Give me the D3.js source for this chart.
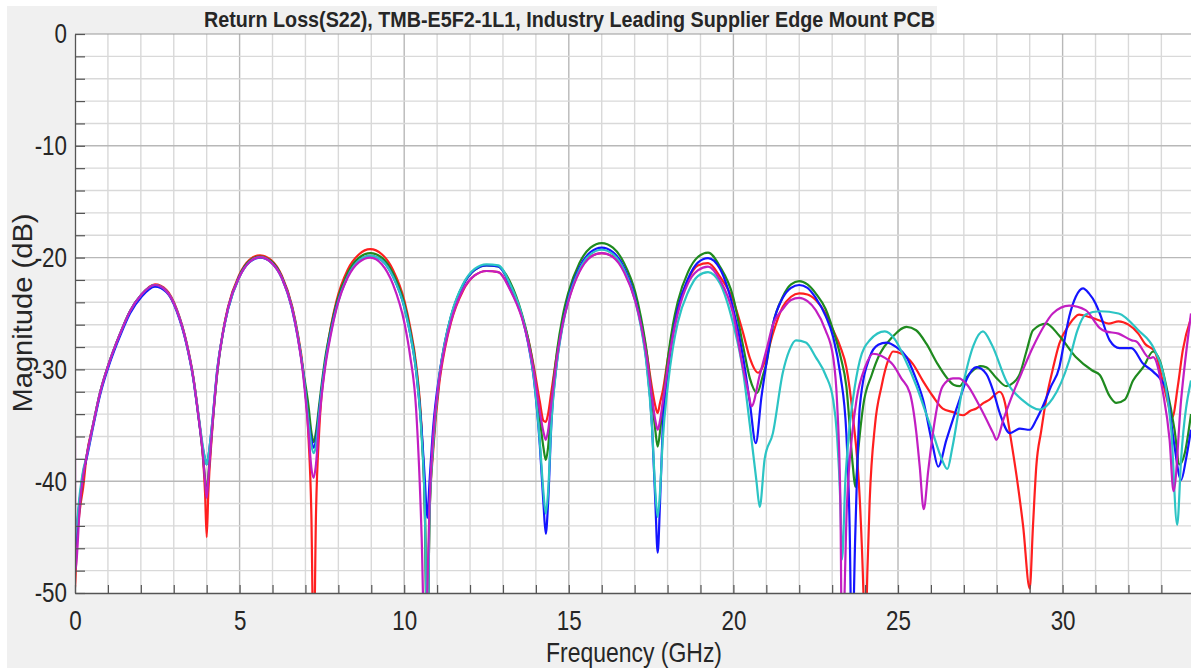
<!DOCTYPE html>
<html>
<head>
<meta charset="utf-8">
<script src="https://cdn.jsdelivr.net/npm/d3@7"></script>
<style>
  html, body { margin: 0; padding: 0; background: #ffffff; }
  svg { display: block; }
  text { font-family: "Liberation Sans", Arial, Helvetica, sans-serif; fill: #262626; }
</style>
</head>
<body>
<svg id="chart" width="1191" height="670"></svg>
<script>
// ---------------- DATA ----------------
const chartTitle = "Return Loss(S22), TMB-E5F2-1L1, Industry Leading Supplier Edge Mount PCB";
const xLabel = "Frequency (GHz)";
const yLabel = "Magnitude (dB)";
const xTickLabels = [0, 5, 10, 15, 20, 25, 30];
const yTickLabels = [0, -10, -20, -30, -40, -50];

// shared frequency grid (GHz) for 0 - 20.3 GHz
const freqBase = [0, 0.01, 0.05, 0.15, 0.25, 0.35, 0.56, 0.76, 1.06, 1.37, 1.67, 2.02, 2.43, 2.78, 3.09, 3.39, 3.59, 3.75, 3.88, 3.95, 4.0, 4.05, 4.16,
  4.33, 4.49, 4.65, 4.98, 5.3, 5.62, 5.95, 6.28, 6.6, 6.76, 6.93, 7.09, 7.18, 7.25, 7.32,
  7.42, 7.6, 7.77, 7.94, 8.28, 8.63, 8.97, 9.32, 9.66, 10.01, 10.18, 10.36, 10.53, 10.63, 10.7, 10.77,
  10.88, 11.06, 11.24, 11.42, 11.78, 12.14, 12.5, 12.86, 13.22, 13.58, 13.76, 13.94, 14.12, 14.23, 14.3, 14.37,
  14.47, 14.64, 14.81, 14.98, 15.32, 15.66, 16.0, 16.34, 16.68, 17.02, 17.19, 17.36, 17.53, 17.63, 17.7, 17.77,
  17.85, 18.01, 18.16, 18.31, 18.62, 18.92, 19.23, 19.59, 19.99, 20.3];

const redBase = [-49.5, -49, -46, -42.5, -40.5, -37.8,
  -34.8, -32.1, -29.2, -26.8, -24.8, -23.3, -22.4, -22.9, -24.6, -27.6, -30.6, -34.1, -37.6,
  -41, -45, -41, -35.8,
  -30.0, -26.7, -24.4, -21.6, -20.2, -19.8, -20.2, -21.6, -24.4, -26.7, -30.0, -35.9, -43, -56, -43,
  -35.4, -29.5, -26.2, -23.9, -21.1, -19.7, -19.25, -19.7, -21.1, -23.9, -26.2, -29.5, -35.4, -43, -56, -43,
  -37.3, -31.4, -28.1, -25.8, -23.0, -21.6, -21.2, -21.3, -22.8, -25.3, -27.2, -29.8, -32.9, -34.6, -34.7, -34.0,
  -32.0, -28.6, -25.9, -23.9, -21.2, -19.9, -19.6, -19.9, -21.2, -23.8, -25.7, -28.4, -31.7, -33.3, -33.9, -33.0,
  -32.0, -29.0, -26.5, -24.6, -22.0, -20.7, -20.5, -21.7, -23.8, -26.8];

const greenBase = [-46.5, -46, -45, -42, -39.5, -37.8,
  -34.8, -32.1, -29.2, -26.8, -24.8, -23.3, -22.45, -23.0, -24.7, -27.7, -30.7, -34.2, -37.5,
  -39.8, -41.3, -39.5, -35.5,
  -30.1, -26.8, -24.5, -21.7, -20.3, -19.9, -20.3, -21.7, -24.5, -26.8, -30.1, -33.2, -35.6, -36.5, -35.6,
  -33.1, -29.0, -26.3, -24.1, -21.4, -20.0, -19.6, -20.0, -21.4, -24.2, -26.5, -29.8, -35.7, -43, -56, -43,
  -36.8, -30.9, -27.6, -25.3, -22.5, -21.1, -20.7, -20.8, -22.2, -25.1, -27.2, -30.1, -34.4, -37.0, -38.1, -37.0,
  -33.1, -28.4, -25.3, -23.2, -20.5, -19.1, -18.7, -19.1, -20.5, -23.1, -25.3, -28.3, -32.7, -35.5, -36.9, -35.6,
  -33.3, -29.0, -26.05, -23.95, -21.3, -19.95, -19.55, -20.8, -23.5, -28.0];

const blueBase = [-46.5, -46, -44.5, -41.5, -39.2, -38.0,
  -35.0, -32.3, -29.4, -27.0, -25.0, -23.5, -22.6, -23.1, -24.8, -27.8, -30.8, -34.2, -37.0,
  -38.0, -38.5, -37.8, -35.0,
  -29.8, -26.8, -24.6, -21.8, -20.4, -20.0, -20.4, -21.8, -24.7, -27.0, -30.2, -34.5, -36.3, -37.0, -36.3,
  -33.6, -29.4, -26.6, -24.4, -21.7, -20.25, -19.85, -20.25, -21.7, -24.5, -26.8, -30.1, -35.4, -40.0, -43.3, -40.0,
  -35.2, -30.6, -27.5, -25.3, -22.5, -21.1, -20.7, -20.8, -22.5, -25.3, -27.6, -30.9, -36.8, -42.0, -44.7, -42.0,
  -34.9, -29.3, -26.0, -23.7, -20.9, -19.5, -19.1, -19.5, -20.9, -23.7, -26.0, -29.3, -35.2, -42.0, -46.4, -42.0,
  -35.5, -30.2, -26.9, -24.6, -21.9, -20.45, -20.05, -21.0, -24.5, -29.0];

const cyanBase = [-45.5, -45, -44, -41, -39, -37.8,
  -34.8, -32.1, -29.2, -26.8, -24.8, -23.3, -22.45, -23.0, -24.7, -27.7, -30.7, -34.0, -36.8,
  -38.0, -38.5, -37.8, -35.0,
  -29.8, -26.8, -24.6, -21.8, -20.4, -19.95, -20.4, -21.8, -24.6, -26.9, -30.2, -34.6, -36.8, -37.5, -36.8,
  -33.8, -29.5, -26.7, -24.5, -21.7, -20.25, -19.85, -20.25, -21.7, -24.5, -26.8, -30.1, -36.0, -43, -56, -43,
  -36.7, -30.8, -27.5, -25.2, -22.4, -21.0, -20.6, -20.7, -22.4, -25.2, -27.5, -30.8, -36.5, -41.0, -42.9, -41.0,
  -34.8, -29.4, -26.2, -23.9, -21.1, -19.7, -19.3, -19.7, -21.1, -23.9, -26.2, -29.5, -35.3, -41.0, -43.2, -41.0,
  -36.5, -31.4, -28.1, -25.8, -23.1, -21.65, -21.3, -22.3, -25.9, -30.3];

const magentaBase = [-36, -48, -47, -42, -39.5, -37.8,
  -34.8, -32.1, -29.2, -26.8, -24.8, -23.3, -22.45, -23.0, -24.7, -27.7, -30.7, -34.2, -37.5,
  -40.0, -41.5, -39.8, -35.5,
  -30.0, -26.8, -24.5, -21.8, -20.4, -19.95, -20.4, -21.8, -24.6, -27.0, -30.5, -35.5, -38.8, -39.7, -38.5,
  -34.5, -29.8, -26.9, -24.6, -21.8, -20.4, -20.0, -20.6, -22.4, -25.9, -28.8, -33.5, -45, -56, -50, -42,
  -36.0, -31.0, -27.9, -25.7, -22.9, -21.6, -21.2, -21.3, -22.9, -25.45, -27.45, -30.2, -33.8, -35.6, -36.3, -35.5,
  -33.0, -28.9, -26.0, -24.0, -21.3, -19.95, -19.6, -19.95, -21.3, -23.9, -25.95, -28.75, -32.6, -34.6, -35.4, -34.6,
  -33.05, -29.7, -27.0, -25.0, -22.3, -21.15, -20.8, -22.0, -25.0, -30.0];

// per-series tails above 20.3 GHz
const redTailF = [20.5, 20.75, 21.0, 21.2, 21.5, 21.75, 22.0, 22.25, 22.5, 22.8, 23.03, 23.25, 23.43, 23.63, 23.84, 23.95, 24.0, 24.07, 24.14, 24.3, 24.5, 24.7, 24.85, 25.1, 25.45, 25.75, 26.06, 26.36, 26.65, 26.97, 27.2, 27.38, 27.6, 27.78, 28.09, 28.25, 28.4, 28.6, 28.8, 29.0, 29.1, 29.2, 29.35, 29.5, 29.7, 29.9, 30.2, 30.5, 30.8, 31.1, 31.4, 31.7, 32.0, 32.3, 32.5, 32.8, 33.05, 33.2, 33.33, 33.5, 33.65, 33.9];
const redTailDb = [-29.0, -30.3, -28.9, -26.8, -24.4, -23.5, -23.2, -23.3, -23.8, -25.0, -26.5, -28.0, -29.8, -34.2, -41.7, -50, -56, -48, -41.7, -35, -31.5, -29.2, -28.4, -28.6, -29.5, -31.0, -32.4, -33.5, -33.8, -34.1, -33.7, -33.5, -33.0, -32.7, -32.0, -33.0, -35.7, -39.5, -44, -49.6, -44, -38.7, -35.5, -32.7, -30.0, -27.7, -26.0, -25.1, -25.3, -25.6, -25.9, -25.7, -26.0, -26.8, -27.7, -28.4, -31.2, -33.0, -34.3, -31.5, -28.3, -25.4];

const greenTailF = [20.5, 20.72, 20.9, 21.0, 21.2, 21.5, 21.75, 22.0, 22.25, 22.5, 22.8, 23.03, 23.25, 23.43, 23.63, 23.7, 23.8, 23.94, 24.2, 24.45, 24.8, 25.26, 25.55, 25.86, 26.2, 26.47, 26.7, 26.87, 27.05, 27.28, 27.5, 27.68, 28.0, 28.29, 28.5, 28.7, 28.9, 29.1, 29.5, 29.9, 30.4, 30.9, 31.13, 31.43, 31.63, 31.89, 32.14, 32.45, 32.75, 32.95, 33.15, 33.4, 33.55, 33.71, 33.9];
const greenTailDb = [-30.8, -32.1, -30.5, -29.5, -26.0, -23.5, -22.4, -22.1, -22.4, -23.2, -24.6, -26.5, -28.8, -31.5, -38.7, -40.5, -37, -33.3, -30.5, -28.6, -27.2, -26.2, -26.5, -27.7, -29.5, -30.7, -31.4, -31.5, -30.8, -30.1, -29.7, -29.8, -30.8, -31.5, -31.2, -30.4, -28.4, -26.5, -25.9, -27.0, -28.9, -30.1, -30.5, -32.4, -33.0, -32.7, -31.0, -29.8, -28.4, -29.2, -31.5, -35.4, -38.5, -37.5, -34.0];

const blueTailF = [20.5, 20.68, 20.85, 21.0, 21.2, 21.5, 21.75, 22.0, 22.25, 22.5, 22.8, 23.03, 23.25, 23.43, 23.53, 23.6, 23.7, 23.84, 24.14, 24.4, 24.65, 24.95, 25.26, 25.5, 25.76, 26.06, 26.22, 26.47, 26.87, 27.1, 27.38, 27.68, 27.9, 28.09, 28.4, 28.7, 29.0, 29.2, 29.4, 29.65, 29.9, 30.05, 30.2, 30.4, 30.62, 30.8, 31.0, 31.13, 31.43, 31.73, 32.09, 32.45, 32.75, 33.15, 33.37, 33.6, 33.75, 33.9];
const blueTailDb = [-33.0, -36.6, -32.5, -29.5, -26.0, -23.6, -22.7, -22.45, -22.7, -23.6, -25.2, -27.1, -30.5, -35.7, -44, -56, -45, -33.3, -28.9, -27.8, -27.6, -28.0, -28.9, -30.5, -32.7, -36.9, -38.7, -36.3, -32.7, -30.8, -29.8, -30.4, -32.0, -33.9, -35.7, -35.3, -35.4, -34.5, -33.3, -31.5, -29.8, -27.5, -25.3, -23.5, -22.75, -23.2, -24.1, -25.0, -27.4, -28.1, -28.1, -29.5, -30.2, -31.8, -36.3, -39.9, -38.0, -35.4];

const cyanTailF = [20.5, 20.7, 20.8, 20.95, 21.2, 21.5, 21.7, 21.9, 22.2, 22.5, 22.8, 23.03, 23.15, 23.25, 23.3, 23.4, 23.5, 23.63, 23.84, 24.14, 24.6, 24.9, 25.2, 25.56, 25.8, 26.06, 26.3, 26.5, 26.65, 26.97, 27.3, 27.58, 27.85, 28.3, 28.8, 29.3, 29.7, 30.2, 30.45, 30.7, 31.13, 31.7, 32.3, 32.8, 33.1, 33.3, 33.48, 33.6, 33.9];
const cyanTailDb = [-35.0, -40.0, -42.3, -38.0, -35.7, -30.3, -28.3, -27.4, -27.6, -28.9, -30.5, -32.7, -36.0, -42.0, -47.0, -40.0, -36.0, -32.7, -29.2, -27.4, -26.6, -27.3, -29.0, -31.5, -33.5, -35.7, -37.8, -38.9, -37.0, -31.5, -27.8, -26.6, -27.8, -31.1, -32.8, -33.6, -32.6, -29.2, -26.5, -25.1, -24.8, -25.0, -26.5, -28.3, -31.0, -35.4, -43.9, -38.0, -31.0];

const magentaTailF = [20.45, 20.55, 20.8, 21.0, 21.2, 21.5, 21.75, 22.0, 22.25, 22.5, 22.8, 23.03, 23.15, 23.25, 23.3, 23.45, 23.6, 23.74, 24.0, 24.24, 24.5, 24.85, 25.1, 25.36, 25.55, 25.66, 25.78, 25.92, 26.06, 26.36, 26.67, 26.85, 27.08, 27.48, 27.89, 27.99, 28.2, 28.5, 28.8, 29.1, 29.4, 29.7, 30.2, 30.7, 31.13, 31.3, 31.7, 32.1, 32.24, 32.65, 32.75, 33.05, 33.25, 33.37, 33.6, 33.9];
const magentaTailDb = [-32.0, -33.3, -30.5, -28.3, -26.0, -24.6, -23.8, -23.6, -23.9, -24.7, -26.5, -28.9, -33.0, -42.0, -56, -42.0, -36.0, -32.7, -29.8, -28.6, -28.8, -29.6, -30.8, -32.1, -35.5, -38.7, -42.5, -39.0, -35.7, -31.5, -30.8, -30.8, -31.3, -33.3, -35.7, -36.3, -34.5, -32.1, -30.0, -28.0, -26.3, -25.0, -24.3, -24.7, -26.3, -26.6, -26.8, -27.4, -27.5, -29.0, -28.9, -32.1, -36.3, -40.9, -32.7, -25.0];

const seriesNames = ["red", "green", "blue", "cyan", "magenta"];
const seriesColors = ["#ff1f1f", "#1f8a1f", "#1414ff", "#2cc4c4", "#c21ec2"];

// ---------------- CHART ----------------
const svg = d3.select("#chart");
const W = 1191, H = 670;
const plot = { left: 75, top: 34, right: 1191, bottom: 593 };

const x = d3.scaleLinear().domain([0, 33.9]).range([plot.left, plot.right]);
const y = d3.scaleLinear().domain([0, -50]).range([plot.top, plot.bottom]);

// figure background
svg.append("rect").attr("x", 7).attr("y", 6).attr("width", W - 7).attr("height", 662).attr("fill", "#f0f0f0");
svg.append("rect").attr("x", 937).attr("y", 0).attr("width", W - 937).attr("height", plot.top).attr("fill", "#ffffff");
svg.append("rect").attr("x", plot.left).attr("y", plot.top).attr("width", plot.right - plot.left)
  .attr("height", plot.bottom - plot.top).attr("fill", "#ffffff");

// grid
const xGrid = d3.range(1, 34);
const yGrid = d3.range(-2, -50, -2);
const grid = svg.append("g");
grid.selectAll("line.vx").data(xGrid).join("line")
  .attr("x1", d => x(d)).attr("x2", d => x(d)).attr("y1", plot.top).attr("y2", plot.bottom)
  .attr("stroke", d => d % 5 === 0 ? "#b8b8b8" : "#d9d9d9").attr("stroke-width", 1.4);
grid.selectAll("line.hy").data(yGrid).join("line")
  .attr("y1", d => y(d)).attr("y2", d => y(d)).attr("x1", plot.left).attr("x2", plot.right)
  .attr("stroke", d => d % 10 === 0 ? "#b8b8b8" : "#d9d9d9").attr("stroke-width", 1.4);

// top border
svg.append("line").attr("x1", plot.left).attr("x2", plot.right).attr("y1", plot.top).attr("y2", plot.top)
  .attr("stroke", "#9a9a9a").attr("stroke-width", 1.2);

// series
const clip = svg.append("clipPath").attr("id", "clip");
clip.append("rect").attr("x", plot.left).attr("y", plot.top).attr("width", plot.right - plot.left).attr("height", plot.bottom - plot.top);

const tails = {
  red: [redTailF, redTailDb], green: [greenTailF, greenTailDb], blue: [blueTailF, blueTailDb],
  cyan: [cyanTailF, cyanTailDb], magenta: [magentaTailF, magentaTailDb]
};
const bases = { red: redBase, green: greenBase, blue: blueBase, cyan: cyanBase, magenta: magentaBase };

const series = seriesNames.map((name, i) => {
  const f = freqBase.concat(tails[name][0]);
  const v = bases[name].concat(tails[name][1]);
  return { name, color: seriesColors[i], points: f.map((ff, k) => [ff, v[k]]) };
});

const line = d3.line().x(d => x(d[0])).y(d => y(d[1])).curve(d3.curveMonotoneX);
const lines = svg.append("g").attr("clip-path", "url(#clip)");
lines.selectAll("path").data(series).join("path")
  .attr("d", d => line(d.points))
  .attr("fill", "none")
  .attr("stroke", d => d.color)
  .attr("stroke-width", 2.2)
  .attr("stroke-linejoin", "round");

// axes
const xAxis = d3.axisBottom(x)
  .tickValues(d3.range(0, 34))
  .tickFormat(d => xTickLabels.includes(d) ? String(d) : "")
  .tickSizeInner(-8).tickSizeOuter(0).tickPadding(17);
const gx = svg.append("g").attr("transform", `translate(0,${plot.bottom})`).call(xAxis);
gx.select(".domain").attr("stroke", "#555").attr("stroke-width", 1.3);
gx.selectAll(".tick line").attr("stroke", "#555").attr("stroke-width", 1.2);
gx.selectAll(".tick text").attr("font-size", 28).attr("fill", "#262626")
  .attr("font-family", "Liberation Sans, Arial, sans-serif")
  .attr("transform", "scale(0.8,1)");

const yAxis = d3.axisLeft(y)
  .tickValues(d3.range(0, -51, -2))
  .tickFormat(d => yTickLabels.includes(d) ? String(d) : "")
  .tickSizeInner(-10).tickSizeOuter(0).tickPadding(10);
const gy = svg.append("g").attr("transform", `translate(${plot.left},0)`).call(yAxis);
gy.select(".domain").attr("stroke", "#555").attr("stroke-width", 1.3);
gy.selectAll(".tick line").attr("stroke", "#555").attr("stroke-width", 1.2);
gy.selectAll(".tick text").attr("font-size", 28).attr("fill", "#262626")
  .attr("font-family", "Liberation Sans, Arial, sans-serif")
  .attr("x", -10).attr("transform", "scale(0.8,1)");

// title
svg.append("text")
  .attr("x", 204).attr("y", 27)
  .attr("font-size", 22).attr("font-weight", "bold").attr("fill", "#111")
  .attr("textLength", 731).attr("lengthAdjust", "spacingAndGlyphs")
  .text(chartTitle);

// axis labels
svg.append("text")
  .attr("transform", "translate(634,662) scale(0.82,1)")
  .attr("text-anchor", "middle").attr("font-size", 28).attr("fill", "#262626")
  .text(xLabel);
svg.append("text")
  .attr("transform", "translate(32,313) rotate(-90)")
  .attr("text-anchor", "middle").attr("font-size", 28.5).attr("fill", "#262626")
  .attr("textLength", 199).attr("lengthAdjust", "spacingAndGlyphs")
  .text(yLabel);
</script>
</body>
</html>
